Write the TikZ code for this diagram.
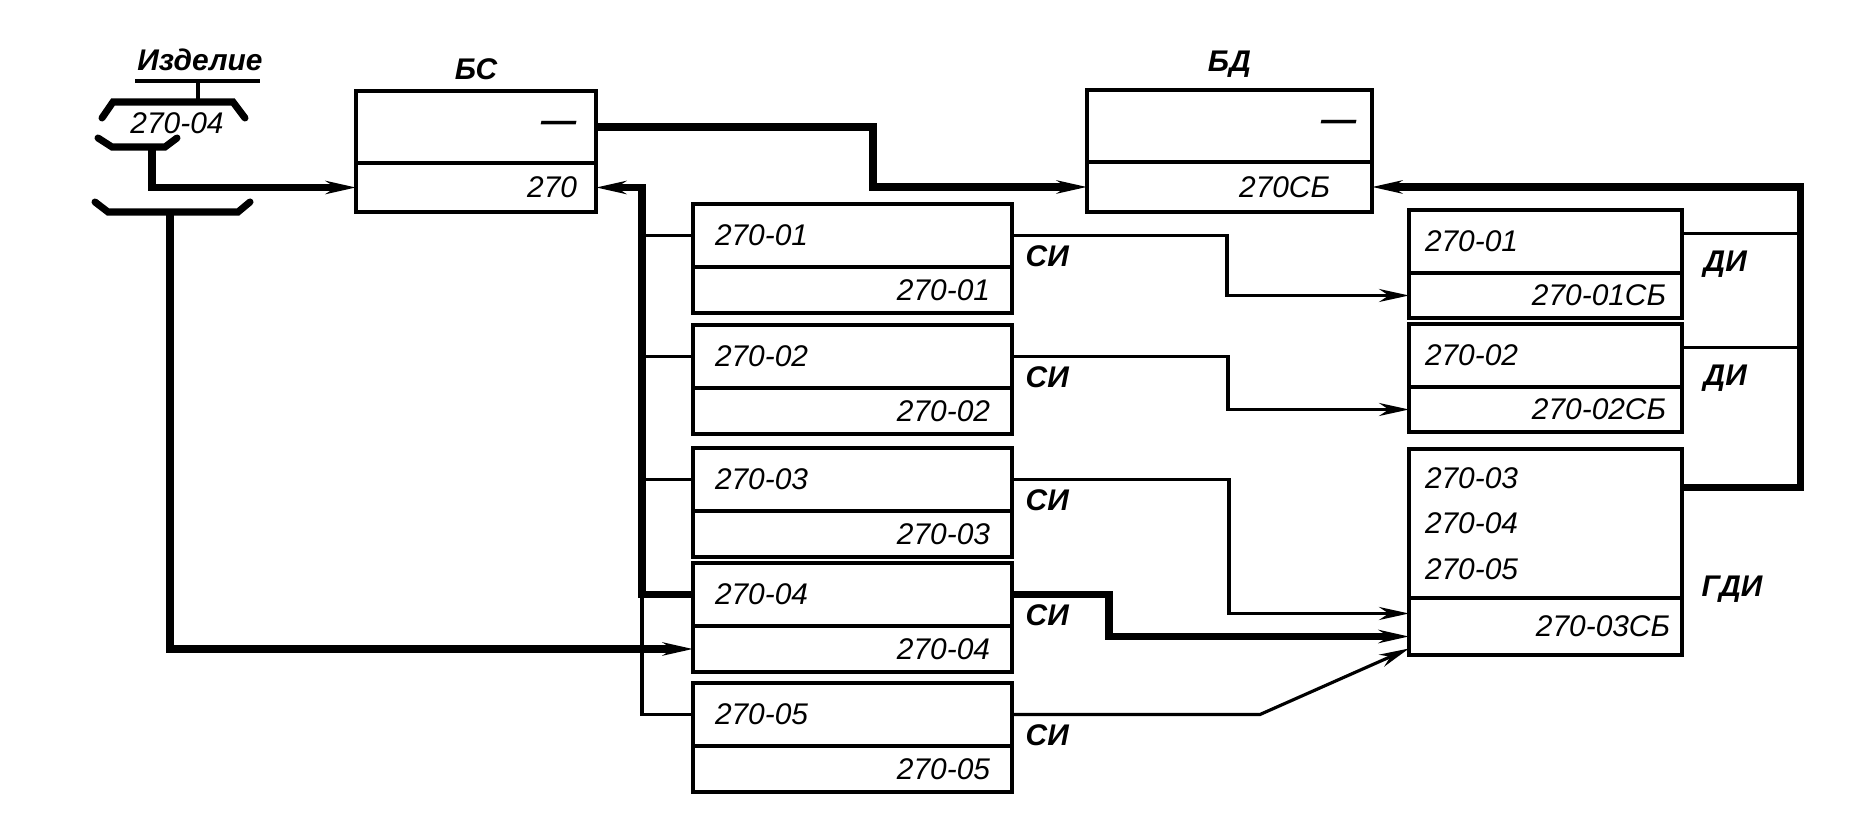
\documentclass[tikz,border=0pt]{standalone}
\usepackage{fontspec}
\newfontfamily\gostfont{Liberation Sans}
\newcommand\gost{\gostfont\itshape\fontsize{8.5}{10}\selectfont}
\usetikzlibrary{positioning,arrows.meta}

\begin{document}
\begin{tikzpicture}[x=0.1mm,y=-0.1mm,
        part/.style={draw, line width=0.9pt, inner ysep=0pt, inner xsep=2.2mm, outer sep=0pt, font=\gost},
        sitop/.style={part, text width=27.5mm, minimum height=6.3mm, align=left},
        sibot/.style={part, text width=27.5mm, minimum height=4.6mm, align=right},
        ditop/.style={part, inner xsep=1.6mm, text width=24.1mm, minimum height=6.3mm, align=left},
        dibot/.style={part, inner xsep=1.6mm, text width=24.1mm, minimum height=4.5mm, align=right},
        lbl/.style={font=\gost\bfseries, inner sep=0pt},
        wire/.style={line width=0.9pt},
        bus/.style={line width=2pt},
        arr/.style={-{Stealth[length=3mm,width=1.3mm]}}]
    \useasboundingbox (0,0) rectangle (1869,826);
    % item and its brackets
    \node[lbl] (izd) at (200,60) {Изделие};
    \draw[wire] (135,81)--(260,81) (198,81)--(198,102);
    \draw[bus, line cap=round] (102,118)--(113,102)--(233,102)--(245,118);
    \node[lbl, font=\gost] (prod) at (177,123) {270-04};
    \draw[bus, line cap=round] (98,138)--(112,147)--(165,147)--(177,138);
    \draw[bus, line cap=round] (95,202)--(108,212)--(238,212)--(250,202);
    \coordinate (tap1) at (152,147);
    \coordinate (tap2) at (170,212);
    % top blocks
    \node[part, text width=20.2mm, inner xsep=1.9mm, minimum height=7.2mm, align=right, anchor=north west] (bct) at (356,91) {{\fontsize{10}{10}\selectfont\bfseries —}};
    \node[part, text width=20.2mm, inner xsep=1.9mm, minimum height=4.9mm, align=right, below=0pt of bct] (bcb) {270};
    \node[lbl, above=1mm of bct] (bcl) {БС};
    \node[part, text width=25.5mm, inner xsep=1.5mm, minimum height=7.2mm, align=right, anchor=north west] (bdt) at (1087,90) {{\fontsize{10}{10}\selectfont\bfseries —}};
    \node[part, text width=20.1mm, inner xsep=4.2mm, minimum height=5mm, align=right, below=0pt of bdt] (bdb) {270СБ};
    \node[lbl, above=1.2mm of bdt] (bdl) {БД};
    % parts
    \foreach \i/\y in {1/204,2/325,3/448,4/563,5/683} {
        \node[sitop, anchor=north west] (si\i) at (693,\y) {270-0\i};
        \node[sibot, below=0pt of si\i] (sb\i) {270-0\i};
        \node[lbl, below right=0.9mm and 1.3mm of si\i.east] {СИ};
    }
    \foreach \i/\y in {1/210,2/324} {
        \node[ditop, anchor=north west] (dt\i) at (1409,\y) {270-0\i};
        \node[dibot, below=0pt of dt\i] (db\i) {270-0{\i}СБ};
        \node[lbl, below right=0.9mm and 2.1mm of dt\i.east] {ДИ};
    }
    \node[ditop, minimum height=14.9mm, font=\gost\fontsize{8.5}{13}\selectfont, anchor=north west] (gt) at (1409,449) {270-03\\270-04\\270-05};
    \node[dibot, inner xsep=1.2mm, text width=24.9mm, minimum height=5.7mm, below=0pt of gt] (gb) {270-03СБ};
    \node[lbl, anchor=south west] (gl) at ([xshift=1.9mm,yshift=-0.5mm]gt.south east) {ГДИ};
    % connections
    \draw[bus,arr] (tap1) |- (bcb.west);
    \draw[bus,arr] (tap2) |- (sb4.west);
    \draw[bus,arr] (bct.east)--++(277,0) |- (bdb.west);
    \coordinate (spine) at ([xshift=-5.1mm]si4.west);
    \draw[bus,arr] (si4.west)--(spine) |- (bcb.east);
    \foreach \i in {1,2,3} \draw[wire] (si\i.west)--(si\i.west -| spine);
    \draw[wire] (spine) |- (si5.west);
    \draw[wire,arr] (si1.east)--++(215,0) |- (db1.west);
    \draw[wire,arr] (si2.east)--++(216,0) |- (db2.west);
    \draw[wire,arr] (si3.east)--++(217,0) |- ([yshift=1.3mm]gb.west);
    \draw[bus,arr] (si4.east)--++(97,0) |- ([yshift=-1mm]gb.west);
    \draw[wire,arr] (si5.east)--++(248,0)--([yshift=-2.2mm]gb.west);
    \draw[bus,arr] ([yshift=3.6mm]gt.east)--++(118,0) |- (bdb.east);
    \foreach \i in {1,2} \draw[wire] ([yshift=0.8mm]dt\i.east)--++(118,0);
\end{tikzpicture}
\end{document}
